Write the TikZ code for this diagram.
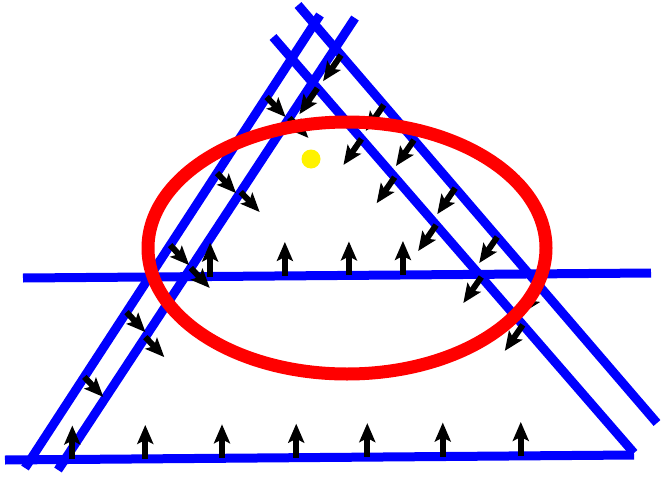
\documentclass[tikz,border=0pt]{standalone}
\usepackage{tikz}
\usetikzlibrary{calc, arrows.meta}

\begin{document}
\begin{tikzpicture}[x=1pt,y=-1pt,
  >={Stealth[length=19pt,width=16pt,inset=4pt]},
  wall/.style={blue, line width=9pt},
  normal/.style={->, black, line width=6pt},
  level/.style={red, line width=13pt},
]
  \useasboundingbox (0,0) rectangle (664,479);

  % the six half planes
  \coordinate (la1) at (25,468);  \coordinate (la2) at (320,15);
  \coordinate (lb1) at (58,470);  \coordinate (lb2) at (355,18);
  \coordinate (rc1) at (273,37);  \coordinate (rc2) at (634,453);
  \coordinate (rd1) at (298,5);   \coordinate (rd2) at (657,423);
  \coordinate (hu1) at (23,278);  \coordinate (hu2) at (651,273);
  \coordinate (hb1) at (5,460);   \coordinate (hb2) at (634,455);

  \draw[wall] (la1) -- (la2);
  \draw[wall] (lb1) -- (lb2);
  \draw[wall] (rc1) -- (rc2);
  \draw[wall] (rd1) -- (rd2);
  \draw[wall] (hu1) -- (hu2);
  \draw[wall] (hb1) -- (hb2);

  % inward normals
  \foreach \p in {0.107,0.223,0.345,0.463,0.576,0.696,0.820}
    \draw[normal] ($(hb1)!\p!(hb2)$) -- ++(0,-34);
  \foreach \p in {0.298,0.417,0.519,0.605}
    \draw[normal] ($(hu1)!\p!(hu2)$) -- ++(0,-34);
  \foreach \p in {0.819,0.651,0.492,0.344,0.201}
    \draw[normal] ($(la1)!\p!(la2)$) -- ++(19,20);
  \foreach \p in {0.779,0.615,0.447,0.294}
    \draw[normal] ($(lb1)!\p!(lb2)$) -- ++(19,20);
  \foreach \p in {0.123,0.245,0.337,0.452,0.577,0.692}
    \draw[normal] ($(rc1)!\p!(rc2)$) -- ++(-18,26);
  \foreach \p in {0.120,0.239,0.323,0.438,0.555,0.675}
    \draw[normal] ($(rd1)!\p!(rd2)$) -- ++(-18,26);

  % ellipse and centre point
  \coordinate (centre) at (347,248);
  \draw[level] (centre) ellipse [x radius=199, y radius=126];
  \fill[yellow] (311,159) circle (9.5);
\end{tikzpicture}
\end{document}
